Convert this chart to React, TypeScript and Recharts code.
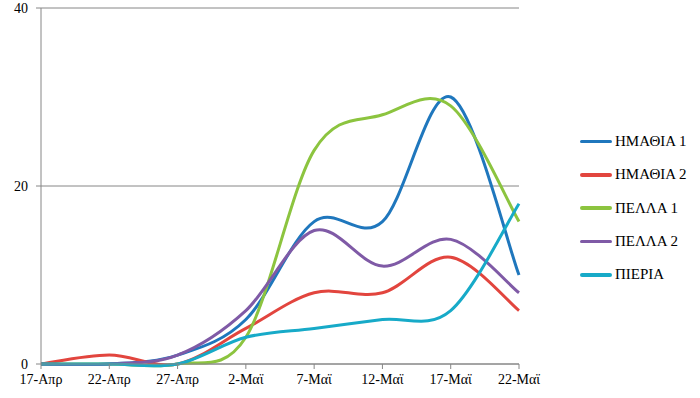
import React from 'react';
import { LineChart, Line, XAxis, YAxis, CartesianGrid, Legend } from 'recharts';

const dates = ['17-Απρ', '22-Απρ', '27-Απρ', '2-Μαϊ', '7-Μαϊ', '12-Μαϊ', '17-Μαϊ', '22-Μαϊ'];

const imathia1 = [0, 0, 1, 5, 16, 16, 30, 10];
const imathia2 = [0, 1, 0, 4, 8, 8, 12, 6];
const pella1 = [0, 0, 0, 3, 24, 28, 29, 16];
const pella2 = [0, 0, 1, 6, 15, 11, 14, 8];
const pieria = [0, 0, 0, 3, 4, 5, 6, 18];

const yTicks = [0, 20, 40];

const series = [
    { key: 'imathia1', name: 'ΗΜΑΘΙΑ 1', color: '#1f77bd', values: imathia1 },
    { key: 'imathia2', name: 'ΗΜΑΘΙΑ 2', color: '#e2453e', values: imathia2 },
    { key: 'pella1', name: 'ΠΕΛΛΑ 1', color: '#8cc43f', values: pella1 },
    { key: 'pella2', name: 'ΠΕΛΛΑ 2', color: '#7f5aa6', values: pella2 },
    { key: 'pieria', name: 'ΠΙΕΡΙΑ', color: '#17aac8', values: pieria },
];

const data = dates.map((date, i) => {
    const row: Record<string, string | number> = { date };
    series.forEach(s => { row[s.key] = s.values[i]; });
    return row;
});

// smoothed line like the spreadsheet one (catmull-rom through the points)
const smoothCurve = (context: any) => {
    let pts: number[][] = [];
    return {
        areaStart() {},
        areaEnd() {},
        lineStart() { pts = []; },
        point(x: number, y: number) { pts.push([+x, +y]); },
        lineEnd() {
            const n = pts.length;
            if (!n) return;
            context.moveTo(pts[0][0], pts[0][1]);
            for (let i = 0; i < n - 1; i++) {
                const p0 = pts[Math.max(i - 1, 0)];
                const p1 = pts[i];
                const p2 = pts[i + 1];
                const p3 = pts[Math.min(i + 2, n - 1)];
                context.bezierCurveTo(
                    p1[0] + (p2[0] - p0[0]) / 6, p1[1] + (p2[1] - p0[1]) / 6,
                    p2[0] - (p3[0] - p1[0]) / 6, p2[1] - (p3[1] - p1[1]) / 6,
                    p2[0], p2[1]
                );
            }
        },
    };
};

const font = "'Liberation Serif', 'DejaVu Serif', 'Noto Serif', 'Noto Serif CJK SC', serif";
const axisColor = '#868686';

const renderLegend = (props: any) => {
    const { payload } = props;
    return (
        <div style={{ fontFamily: font, fontSize: 15, color: '#000' }}>
            {payload.map((entry: any) => (
                <div key={entry.value} style={{ display: 'flex', alignItems: 'center', height: 33.3 }}>
                    <span style={{ display: 'inline-block', width: 32, height: 3.5, background: entry.color, borderRadius: 2 }} />
                    <span style={{ marginLeft: 3 }}>{entry.value}</span>
                </div>
            ))}
        </div>
    );
};

export default function App() {
    return (
        <div style={{ position: 'absolute', left: 0, top: 0, background: '#fff', fontFamily: font }}>
            <style>{'body{margin:0}'}</style>
            <LineChart
                width={700}
                height={398}
                data={data}
                margin={{ top: 8, right: 181, left: 0, bottom: 4 }}
                style={{ fontFamily: font }}
            >
                <CartesianGrid vertical={false} stroke={axisColor} />
                <XAxis
                    dataKey="date"
                    scale="point"
                    height={30}
                    padding={{ left: 0, right: 0 }}
                    interval={0}
                    tick={{ fill: '#000', fontFamily: font, fontSize: 14 }}
                    axisLine={{ stroke: axisColor }}
                    tickLine={{ stroke: axisColor }}
                    tickSize={5}
                    tickMargin={5}
                />
                <YAxis
                    width={41}
                    domain={[0, 40]}
                    ticks={yTicks}
                    tick={{ fill: '#000', fontFamily: font, fontSize: 14 }}
                    axisLine={{ stroke: axisColor }}
                    tickLine={{ stroke: axisColor }}
                    tickSize={5}
                    tickMargin={8}
                />
                <Legend
                    layout="vertical"
                    align="center"
                    verticalAlign="middle"
                    content={renderLegend}
                    wrapperStyle={{ left: 580, top: 125, width: 120 }}
                />
                {series.map(s => (
                    <Line
                        key={s.key}
                        type={smoothCurve as any}
                        dataKey={s.key}
                        name={s.name}
                        stroke={s.color}
                        strokeWidth={3}
                        dot={false}
                        activeDot={false}
                        isAnimationActive={false}
                    />
                ))}
            </LineChart>
        </div>
    );
}
